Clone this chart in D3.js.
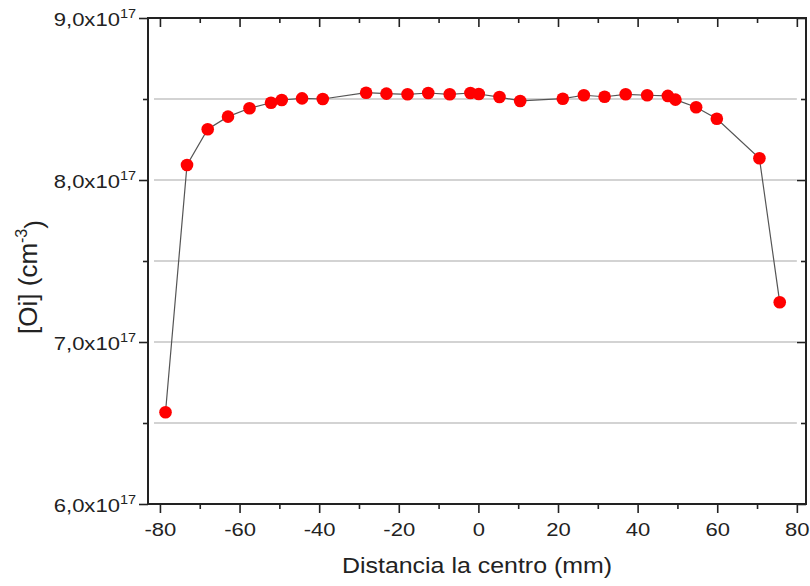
<!DOCTYPE html>
<html>
<head>
<meta charset="utf-8">
<script src="https://cdn.jsdelivr.net/npm/d3@7"></script>
<style>
  body { margin: 0; background: #fff; }
  svg text { font-family: "Liberation Sans", Arial, sans-serif; fill: #222; }
</style>
</head>
<body>
<div id="chart"></div>
<script>
// distance from centre (mm) and interstitial oxygen (cm^-3)
const distance = [-78.6, -73.2, -68.0, -62.9, -57.5, -52.1, -49.4, -44.3, -39.1,
  -28.2, -23.1, -17.8, -12.6, -7.2, -2.0, 0.1, 5.3, 10.5,
  21.2, 26.5, 31.7, 37.0, 42.4, 47.6, 49.5, 54.7, 59.9, 70.6, 75.7];
const oxygen = [6.566e17, 8.093e17, 8.313e17, 8.391e17, 8.443e17, 8.477e17, 8.494e17, 8.504e17, 8.500e17,
  8.539e17, 8.533e17, 8.529e17, 8.537e17, 8.529e17, 8.537e17, 8.531e17, 8.512e17, 8.488e17,
  8.502e17, 8.523e17, 8.514e17, 8.529e17, 8.523e17, 8.519e17, 8.496e17, 8.449e17, 8.378e17, 8.134e17, 7.245e17];

const xMajor = [-80, -60, -40, -20, 0, 20, 40, 60, 80];
const xMinor = [-70, -50, -30, -10, 10, 30, 50, 70];
const yMajor = [6e17, 7e17, 8e17, 9e17];
const yMinor = [6.5e17, 7.5e17, 8.5e17];
const gridLines = [6.5e17, 7e17, 7.5e17, 8e17, 8.5e17];

const width = 810, height = 586;
const margin = { top: 18, right: 4, bottom: 82, left: 148 };
// the original picture is a little wider than tall, text gets the same stretch
const sx = 1.16;

const svg = d3.select("#chart").append("svg")
  .attr("width", width)
  .attr("height", height);

const x = d3.scaleLinear().domain([-83, 82.3]).range([margin.left, width - margin.right]);
const y = d3.scaleLinear().domain([6e17, 9e17]).range([height - margin.bottom, margin.top]);

const plotL = margin.left, plotR = width - margin.right;
const plotT = margin.top, plotB = height - margin.bottom;

// horizontal grid
svg.append("g")
  .selectAll("line")
  .data(gridLines)
  .join("line")
  .attr("x1", x(-81.5)).attr("x2", x(80.0))
  .attr("y1", d => y(d)).attr("y2", d => y(d))
  .attr("stroke", "#c4c4c4")
  .attr("stroke-width", 1.5);

// bottom / left axes (outward ticks)
const fmtY = d => (d / 1e17).toFixed(1).replace(".", ",");

const bottomAxis = svg.append("g")
  .attr("transform", `translate(0,${plotB})`)
  .call(d3.axisBottom(x).tickValues(xMajor).tickSize(9).tickFormat(d3.format("d")));
bottomAxis.select(".domain").remove();
bottomAxis.selectAll("text")
  .attr("font-size", 19)
  .attr("fill", "#222")
  .attr("y", 19)
  .attr("transform", `scale(${sx},1)`)
  .text(d => d < 0 ? "-" + Math.abs(d) : d);

svg.append("g")
  .attr("transform", `translate(0,${plotB})`)
  .call(d3.axisBottom(x).tickValues(xMinor).tickSize(5).tickFormat(""))
  .select(".domain").remove();

const leftAxis = svg.append("g")
  .attr("transform", `translate(${plotL},0)`)
  .call(d3.axisLeft(y).tickValues(yMajor).tickSize(9).tickFormat(""));
leftAxis.select(".domain").remove();
leftAxis.selectAll(".tick").append("text")
  .attr("x", -12 / sx)
  .attr("dy", "0.38em")
  .attr("transform", `scale(${sx},1)`)
  .attr("text-anchor", "end")
  .attr("font-size", 19)
  .attr("fill", "#222")
  .text(d => fmtY(d) + "x10")
  .append("tspan")
  .attr("dy", "-0.62em")
  .attr("font-size", 12.5)
  .text("17");

svg.append("g")
  .attr("transform", `translate(${plotL},0)`)
  .call(d3.axisLeft(y).tickValues(yMinor).tickSize(5).tickFormat(""))
  .select(".domain").remove();

// top / right axes (inward ticks)
svg.append("g")
  .attr("transform", `translate(0,${plotT})`)
  .call(d3.axisBottom(x).tickValues(xMajor).tickSize(9).tickFormat(""))
  .select(".domain").remove();
svg.append("g")
  .attr("transform", `translate(0,${plotT})`)
  .call(d3.axisBottom(x).tickValues(xMinor).tickSize(5).tickFormat(""))
  .select(".domain").remove();
svg.append("g")
  .attr("transform", `translate(${plotR},0)`)
  .call(d3.axisLeft(y).tickValues(yMajor).tickSize(9).tickFormat(""))
  .select(".domain").remove();
svg.append("g")
  .attr("transform", `translate(${plotR},0)`)
  .call(d3.axisLeft(y).tickValues(yMinor).tickSize(5).tickFormat(""))
  .select(".domain").remove();

svg.selectAll(".tick line").attr("stroke", "#222").attr("stroke-width", 1.6);

// frame
svg.append("rect")
  .attr("x", plotL).attr("y", plotT)
  .attr("width", plotR - plotL).attr("height", plotB - plotT)
  .attr("fill", "none")
  .attr("stroke", "#222")
  .attr("stroke-width", 2);

// series
const pts = distance.map((d, i) => ({ x: d, y: oxygen[i] }));

svg.append("path")
  .datum(pts)
  .attr("fill", "none")
  .attr("stroke", "#555")
  .attr("stroke-width", 1.2)
  .attr("d", d3.line().x(d => x(d.x)).y(d => y(d.y)));

svg.append("g")
  .selectAll("circle")
  .data(pts)
  .join("circle")
  .attr("cx", d => x(d.x))
  .attr("cy", d => y(d.y))
  .attr("r", 6.3)
  .attr("fill", "#ff0000");

// axis titles
svg.append("text")
  .attr("transform", `translate(${(plotL + plotR) / 2},573) scale(${sx},1)`)
  .attr("text-anchor", "middle")
  .attr("font-size", 21.5)
  .text("Distancia la centro (mm)");

const yTitle = svg.append("text")
  .attr("transform", `translate(37,277) rotate(-90)`)
  .attr("text-anchor", "middle")
  .attr("font-size", 26)
  .text("[Oi] (cm");
yTitle.append("tspan").attr("dy", "-0.6em").attr("font-size", 16).text("-3");
yTitle.append("tspan").attr("dy", "0.6em").text(")");
</script>
</body>
</html>
